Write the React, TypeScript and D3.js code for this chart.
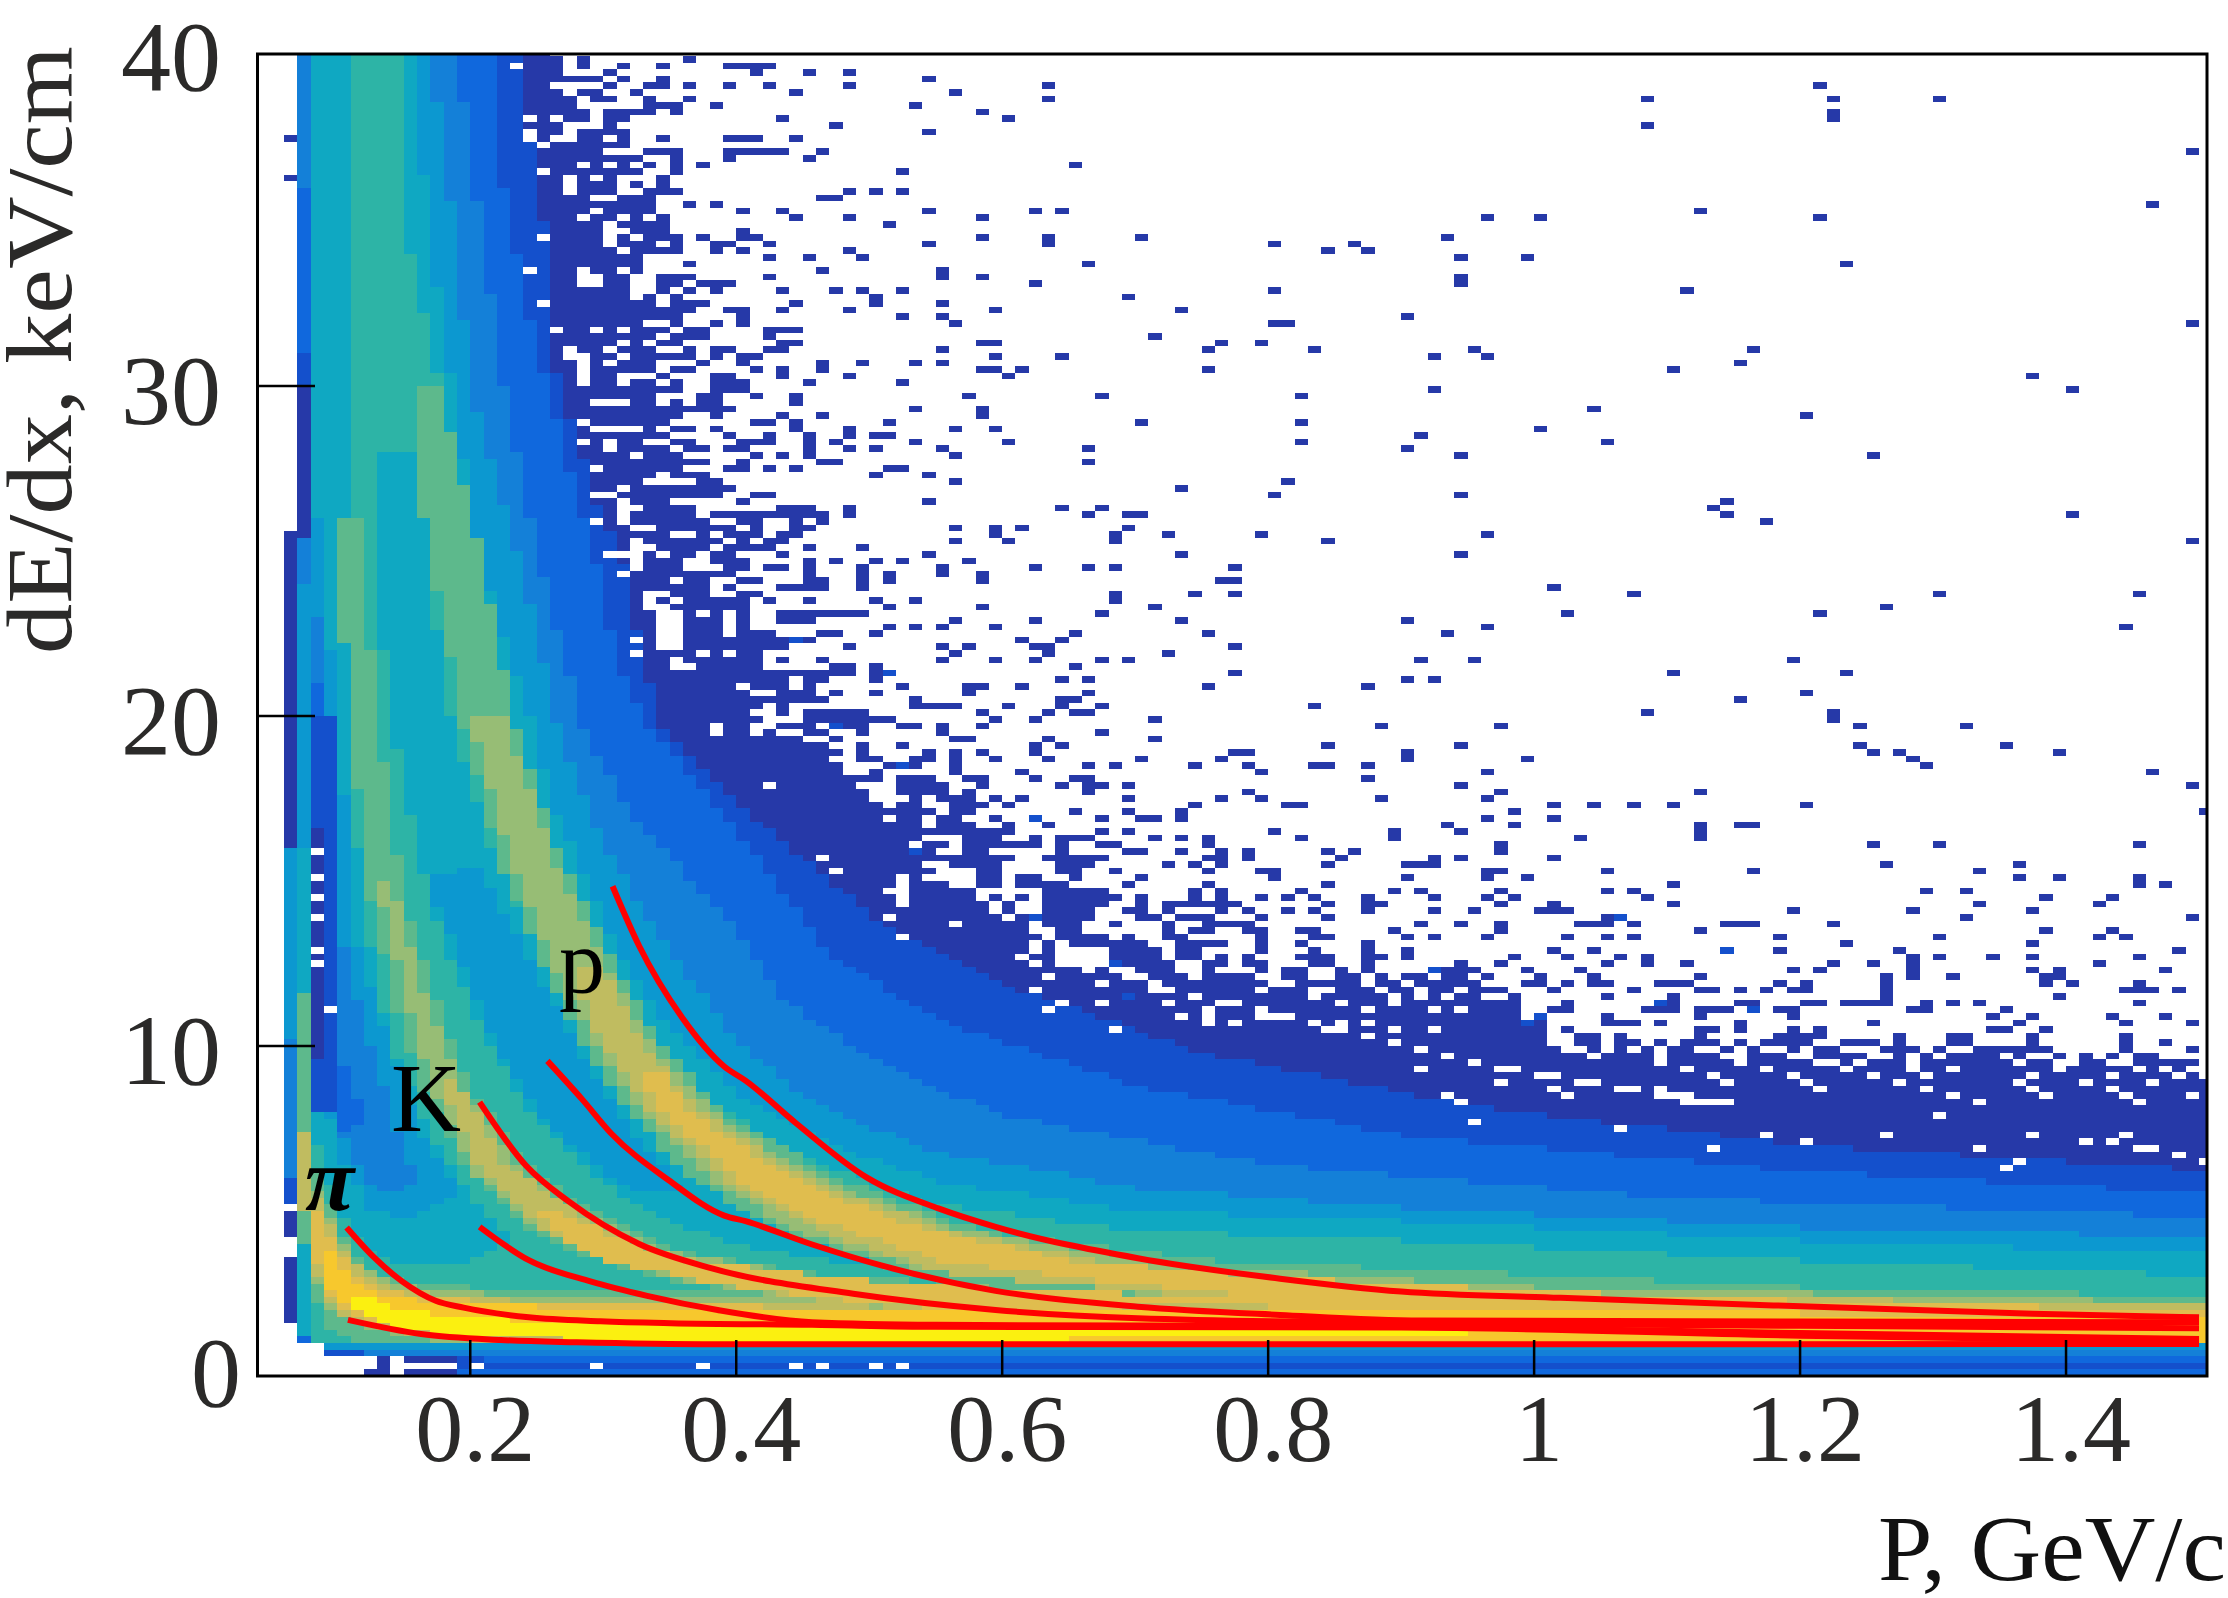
import React, { useMemo } from "react";
import * as d3 from "d3";

// ---------- chart values ----------
const xTicks = [0.2, 0.4, 0.6, 0.8, 1, 1.2, 1.4];
const yTicks = [10, 20, 30];
const palette = ["#2639A8", "#1450CC", "#1068DD", "#1480D8", "#0C98D0", "#0FA8C2", "#2DB4A6", "#5DB98C", "#97BD75", "#C0BC60", "#E0BD4E", "#F7C82D", "#FBF010"];
type Pt = [number, number];

// contour outlines [P, dE/dx] of the dense histogram, one per colour level
const solid: Pt[] = [[.07,40.2],[.26,40.2],[.26,38],[.27,35],[.275,33],[.285,30],[.31,26.7],[.33,23.7],[.35,21.7],[.38,19.7],[.40,18.5],[.44,17.5],[.50,16],[.60,14],[.70,11.8],[.80,11],[.90,10],[.96,9.4],[1.1,8.4],[1.3,7.6],[1.52,7],[1.52,.9],[.07,.9]];
const env1: Pt[] = [[.08,40.2],[.235,40.2],[.255,35],[.266,30],[.295,26.5],[.314,24.7],[.33,21.7],[.345,19.7],[.40,17.4],[.50,14],[.60,11.9],[.75,9.8],[.95,8.2],[1.2,7],[1.52,6.2],[1.52,.9],[.08,.9]];
const env2: Pt[] = [[.08,40.2],[.215,40.2],[.225,36],[.25,31],[.26,29.8],[.278,27],[.295,24.7],[.31,21.7],[.335,19.7],[.40,16.5],[.47,12.8],[.55,10.8],[.70,8.8],[.90,7.3],[1.2,6.2],[1.52,5.5],[1.52,.9],[.08,.9]];
const env3: Pt[] = [[.08,40.2],[.19,40.2],[.207,35],[.225,30],[.25,25],[.284,19.7],[.32,17],[.40,13.6],[.43,11.6],[.50,9.6],[.60,7.9],[.80,6.4],[1.1,5.4],[1.52,4.8],[1.52,.9],[.08,.9]];
const env4: Pt[] = [[.08,40.2],[.17,40.2],[.187,35],[.20,30],[.237,24.7],[.266,19.7],[.29,17],[.33,14],[.40,10.2],[.46,8.2],[.55,6.8],[.70,5.7],[.90,5.1],[1.2,4.5],[1.52,4.2],[1.52,.9],[.08,.9]];
const env5: Pt[] = [[.08,40.2],[.16,40.2],[.167,35],[.187,30],[.205,25],[.247,19.7],[.265,17],[.31,13],[.35,10.5],[.40,8.6],[.47,7],[.55,5.9],[.70,5],[.90,4.7],[1.2,4.1],[1.52,3.7],[1.52,.9],[.08,.9]];
const env6: Pt[] = [[.11,40.2],[.15,40.2],[.15,35],[.177,30],[.19,25],[.215,20],[.25,16],[.29,12.8],[.33,10.3],[.38,8.4],[.45,6.6],[.55,5.2],[.70,4.4],[.90,4.1],[1.2,3.5],[1.52,3],[1.52,.9],[.2,.9],[.2,3.4],[.23,4.2],[.21,5],[.175,7],[.14,10],[.118,14.5],[.107,20],[.105,30]];
const valleyKp5: Pt[] = [[.125,28],[.13,24],[.14,20],[.16,16],[.18,13],[.215,10],[.245,8],[.295,6],[.33,5],[.40,4],[.48,3.4],[.55,3.3],[.5,4],[.43,5],[.375,6],[.325,8],[.285,10],[.25,13],[.215,16],[.185,20],[.17,24],[.16,28]];
const valleyKp4: Pt[] = [[.165,15],[.19,13],[.22,10],[.25,8],[.30,6.2],[.33,5.5],[.36,5.6],[.32,7.5],[.28,10],[.24,13],[.205,15.5]];
const valleyPiK4: Pt[] = [[.085,26],[.10,20],[.115,13],[.14,10],[.16,7.5],[.19,5.6],[.16,4.8],[.125,5],[.105,6.5],[.085,9]];
const valleyPiK3: Pt[] = [[.08,26],[.09,20],[.105,13],[.125,10],[.145,7.5],[.16,6],[.14,5.6],[.12,6],[.10,7.5],[.085,9]];
const valleyPiK2: Pt[] = [[.08,26],[.088,18],[.098,12],[.105,9.5],[.12,8],[.11,7],[.095,8],[.085,9.5]];
const valleyPiK1: Pt[] = [[.08,20],[.10,20],[.10,8],[.08,8]];
const valleyPiK0: Pt[] = [[.08,16.6],[.09,16.6],[.09,9.6],[.08,9.6]];
const pi6: Pt[] = [[.07,5],[.08,7.6],[.09,6.4],[.10,5.2],[.11,4.3],[.13,3.6],[.16,3.3],[.21,3.4],[.3,3.1],[1.52,2.4],[1.52,.9],[.2,.9],[.13,.9],[.09,.9],[.08,1.2],[.07,1.2]];
const pi7: Pt[] = [[.08,6.6],[.09,5.7],[.10,4.6],[.11,3.8],[.125,3.2],[.15,2.9],[.2,2.7],[.3,2.6],[.6,2.7],[.9,2.7],[1.52,2.3],[1.52,.95],[.6,.95],[.2,.95],[.13,1.0],[.1,1.2],[.09,1.6],[.08,2.8]];
const pi8: Pt[] = [[.08,6],[.09,5.3],[.10,4.3],[.11,3.6],[.13,2.95],[.17,2.6],[.25,2.4],[.5,2.3],[1.52,2.05],[1.52,1],[.4,.98],[.2,1],[.15,1.2],[.12,1.5],[.10,1.9],[.09,2.2],[.08,3.4]];
const pi9: Pt[] = [[.08,5.8],[.09,5.1],[.10,4],[.11,3.5],[.13,2.85],[.17,2.45],[.25,2.25],[.5,2.1],[1.52,1.95],[1.52,1],[.4,1],[.2,1.1],[.15,1.3],[.12,1.6],[.10,2],[.09,2.4],[.08,3.8]];
const pi10: Pt[] = [[.08,5.5],[.09,4.6],[.10,3.8],[.11,3.2],[.13,2.7],[.17,2.35],[.25,2.2],[.5,2.05],[1.52,1.9],[1.52,1],[.4,1],[.2,1.15],[.15,1.4],[.12,1.7],[.10,2.1],[.09,2.6],[.08,4.2]];
const pi11: Pt[] = [[.09,4.2],[.10,3.4],[.11,2.9],[.13,2.5],[.17,2.2],[.25,2.1],[.5,2.0],[1.2,1.9],[1.52,1.75],[1.52,1],[.4,1.02],[.2,1.2],[.15,1.45],[.12,1.8],[.11,2.2],[.10,2.4],[.09,2.8]];
const pi12: Pt[] = [[.11,2.55],[.13,2.35],[.15,2.0],[.2,1.75],[.3,1.6],[.4,1.55],[.8,1.5],[.95,1.42],[.95,1.2],[.5,1.05],[.3,1.05],[.2,1.2],[.15,1.4],[.12,1.9],[.11,2.1]];
const proton7: Pt[] = [[.60,2.4],[.52,3.2],[.43,4.4],[.365,6],[.32,8],[.285,10],[.26,12],[.222,15.5],[.193,20],[.165,26],[.155,30],[.175,30],[.202,26],[.232,20],[.27,15.5],[.315,12],[.345,10],[.39,8],[.475,6],[.585,4.4],[.76,3.5],[.9,3.25],[1.2,2.7],[1.52,2.4],[1.52,2],[.7,2]];
const proton8: Pt[] = [[.70,2.6],[.54,3.2],[.445,4.4],[.38,6],[.328,8],[.295,10],[.268,12],[.232,15.5],[.2,20],[.225,20],[.265,15.5],[.308,12],[.338,10],[.382,8],[.46,6],[.57,4.4],[.74,3.3],[1,2.7],[1.52,2.2],[1.52,2],[.72,2]];
const proton9: Pt[] = [[.72,2.5],[.56,3.1],[.46,4.4],[.39,6],[.335,8],[.30,10],[.275,12.5],[.30,12.5],[.33,10],[.375,8],[.45,6],[.56,4.4],[.72,3.1],[.9,2.6],[1.52,2.1],[1.52,2],[.72,2]];
const proton10: Pt[] = [[.8,2.4],[.65,3],[.55,3.5],[.47,4.6],[.40,6],[.345,8],[.325,9.2],[.345,9.2],[.365,8],[.44,6],[.53,4.6],[.65,3.5],[.8,3],[1.1,2.4],[1.52,1.95],[.8,1.95]];
const kaon7: Pt[] = [[.45,2.2],[.34,3],[.27,3.8],[.24,4.6],[.20,6.1],[.165,8.7],[.145,11],[.125,14.5],[.108,20],[.10,26],[.115,26],[.13,20],[.15,14.5],[.178,11],[.20,8.7],[.25,6.1],[.31,4.6],[.36,3.8],[.48,3],[.7,2.6],[1.0,2.2],[.7,1.9]];
const kaon8: Pt[] = [[.46,2.2],[.35,3],[.28,3.8],[.245,4.6],[.205,6.1],[.172,8.7],[.155,11],[.13,15],[.14,15],[.17,11],[.195,8.7],[.24,6.1],[.30,4.6],[.345,3.8],[.46,3],[.7,2.45],[.9,2.2],[.6,1.9]];
const kaon9: Pt[] = [[.47,2.2],[.37,2.9],[.29,3.6],[.25,4.6],[.205,6.5],[.175,9],[.19,9],[.225,6.5],[.295,4.6],[.35,3.6],[.47,2.9],[.7,2.4],[.9,2.2],[.6,1.9]];
const kaon10: Pt[] = [[.5,2.2],[.38,2.8],[.30,3.5],[.27,4.2],[.25,5],[.27,5],[.31,4.2],[.36,3.5],[.52,2.8],[.8,2.3],[.6,1.95]];
const layers: [number, Pt[]][] = [
  [1,env1],[2,env2],[3,env3],[4,env4],[5,env5],[6,env6],
  [5,valleyKp5],[4,valleyKp4],[4,valleyPiK4],[3,valleyPiK3],[2,valleyPiK2],[1,valleyPiK1],[0,valleyPiK0],
  [6,pi6],[7,proton7],[7,kaon7],[7,pi7],[8,proton8],[8,kaon8],[8,pi8],[9,proton9],[9,kaon9],[9,pi9],
  [10,proton10],[10,kaon10],[10,pi10],[11,pi11],[12,pi12],
];

// the two leftmost columns: [P bin, dE from, dE to, colour level]
const leftColumns: [number, number, number, number][] = [
  [6,16,25.6,0],[6,10.2,16,4],[6,6,10.2,3],[6,5.2,6,1],[6,4.2,5,0],[6,1.6,3.6,0],
  [7,36,40.2,3],[7,31,36,2],[7,30,31,1],[7,25.6,30,0],[7,24,25.4,3],[7,16,24,4],[7,11.6,16,5],[7,7.4,11.6,7],[7,5.1,7.4,9],[7,4.1,5.1,7],[7,1.2,4.1,5],[7,.8,1.2,2],
];
// histogram rows at the foot of the plot: [row, first P bin, last P bin, colour level]
const bottomRows: [number, number, number, number][] = [
  [4,9,150,4],[3,9,11,1],[3,12,150,3],[2,13,13,0],[2,15,18,0],[2,19,20,1],[2,21,150,2],
  [1,13,13,0],[1,19,150,1],[0,12,13,0],[0,15,18,0],[0,19,150,2],
];
// isolated cells: [dE row (0.2 wide), list of P bins (0.01 wide)]
const fringeRows: [number, string][] = [
[199,"21 23-26 28 36"],[198,"24-26 28 31 34 39-42"],[197,"24-26 30 41 45 48"],[196,"24-29 31 34 54"],[195,"21 22 25 30 33 34 36 39 42 48 63 121"],[194,"26 28 29 32 44 56"],[193,"24-27 29 30 33 36 63 108 122 130"],[192,"22-27 33-35 38 53"],[191,"26-28 30-33 35 58 122"],[190,"23 25 27 28 30 31 43 60 122"],
[189,"26 30 47 108"],[188,"25 26 28-31 54"],[187,"6 25 28 29 31 34 39-41 44"],[186,"26-31"],[185,"26-29 33-35 39-43 46 149"],[184,"26-32 35 39 45"],[183,"26 27 29 31 33 35 37 65"],[182,"26-32 35 52"],[181,"6 26-28 30 34"],[180,"26 28-30 32 34"],
[179,"26-30 33-35 48 50 52"],[178,"26-28 31-33 46 47"],[177,"26-33 36 38 146"],[176,"26-33 40 43 54 62 64 112"],[175,"26-30 32 34 44 48 58 96 100 121"],[174,"26-29 31-34 51"],[173,"26-29 32-34 40"],[172,"26-29 31 33-35 37 40 41 58 63 70 93"],[171,"26-29 31-33 35 38 39 42 54 63 80 86"],[170,"26-30 32-35 38 40 48 84 87"],
[169,"27-32 42 45 49 94 99"],[168,"27-32 36 66 123"],[167,"27 29 30 32 46 55"],[166,"27 30 31 34-36 42 55 58 94"],[165,"27 30 31 34 35 37-39 62 94"],[164,"27-31 34 36 38 43 47 49 52 80 111"],[163,"27-31 33 35 50 69"],[162,"27-33 35-37 44 50 55"],[161,"27-36 39 40 43 48 59 73"],[160,"27-35 40 52 55 90"],
[159,"28-32 35 38 40 56 80 81 149"],[158,"28-34 36 37 42-44"],[157,"28-33 35-37 42 71"],[156,"28-32 34 35 43 44 58 59 76 79"],[155,"28-33 36 38 39 42 43 55 75 83 95 116"],[154,"29-36 38 40 41 59 64 92 96"],[153,"29 31-33 37 40 46 49 53 55 115"],[152,"29-33 35 36 41 43 46 58 59 61 75 110"],[151,"29-31 34 38 39 43 48 60 137"],[150,"29 30 32 33 35 38-40 45 52"],
[149,"29-35 38-40 92 140"],[148,"29-33 37 38 41 44 57 67 82"],[147,"29 32 33 35 37 38 44"],[146,"29-39 53 58 104"],[145,"29-35 38 43 46 58 120"],[144,"29-34 41 42 44 51 70 82"],[143,"30-33 35 36 38 44 48 56 59 100"],[142,"30-34 39 42 45 48 50 51 91"],[141,"30-32 35 36 40-42 45 47 53 60 82 105"],[140,"30-34 36 37 39 40 45 48 50 55 66 90"],
[139,"30 31 33-35 41 43 45 56 94 125"],[138,"30-37 40 46 47 66"],[137,"30-35 39 40 42 44 51 52"],[136,"30-33 35-37 50 54"],[135,"31-33 37 38 56 81"],[134,"31-39 73"],[133,"31-38 41 42 80 94"],[132,"32-34 40 54 114"],[131,"32-36 43-45 48 64 67 113"],[130,"32-36 38-46 48 66 69 70 114 140"],
[129,"32-37 40 41 44-46 117"],[128,"32 34-41 44 45 56 59 61 69"],[127,"32-34 37-41 43 44 59 68 72 79 96"],[126,"33-38 40 42 43 56 60 68 84 149"],[125,"33-37 39-42 45 49"],[124,"33-36 38 39 43 54 73 94"],[123,"33-35 38-40 45 47 50 52 57"],[122,"33-35 39 40 42 43 45 49 55 62 66 68 77"],[121,"33-39 45 49 51 55 58"],[120,"33 34 36 37 40 41 45 46 49 51 58 76 77"],
[119,"33-37 39 43-46 49 101"],[118,"34-37 40 41 68 74 77 107 130 145"],[117,"34-40 42 45 50 53 68"],[116,"35-40 51 58 71 126"],[115,"35 36 38 40 43-49 67 102 121"],[114,"36-38 40 43-45 56 62 73 90"],[113,"36-38 40 51 53 55 59 96 144"],[112,"36-38 40-42 46 47 50 65 75 93"],[111,"36-45 61 64"],[110,"36-43 48 55 57 62 63 77"],
[109,"35-38 40 41 56 63 72"],[108,"36-41 43 46 55 59 62 67 69 91 95 119"],[107,"37-41 47 48 50 65"],[106,"36-48 50 77 110 123"],[105,"36-43 45 46 50 64 66 90 92"],[104,"36-39 41-43 45 52 57 58 61 75 87"],[103,"36-40 43-45 47 50 57 66 120"],[102,"36-46 53 64 65 115"],[101,"36-41 43 53-56 60 64 67 83"],[100,"36-40 43 45-49 58 63 65 66 108 122"],
[99,"37-41 45-51 59 62 71 122"],[98,"39 40 43-45 47-49 52 53 55 58 88 97 124 132"],[97,"39 40 42 45 46 49 55 67"],[96,"39-44 47 56 57 63 71"],[95,"39-46 49 52 62 64 84 94 124 135"],[94,"39-47 49 54 56 58 62 77 78 90 125 127 139"],[93,"39-46 49 50 53 54 56 59 63 70 76 90 99 128"],[92,"39-47 51-53 56 66 68 74 78 83 84 87 129"],[91,"39-47 50 56 61 79 96 146"],[90,"39-50 52-54 57 58 62 65 66 87"],
[89,"39-41 43-48 52-55 58 64 66 67 69 94 149"],[88,"40-49 52-55 57 66 78 97 112"],[87,"44-49 53 55-57 59 61 69 76 79 88 96"],[86,"45-50 52 53 56-58 60 74 81 82 101 104 107 110 120"],[85,"45-54 56 57 65 69 73 98 150"],[84,"46-50 52 53 55 56 59 62 67 70 71 73 96 101"],[83,"47-53 55-57 60 63 93 98 112 115 116"],[82,"47-60 67 69 80 89 94 112"],[81,"47-53 57-59 62 64-66 71 73 75 82 89 103 112"],[80,"47-52 54 55 57-62 64 67 68 75 97 125 130 145"],
[79,"47-54 57 58 64 69 70 73 76 78 84 86 97"],[78,"50-60 63-67 75 76 78 85 92 94 101"],[77,"51-53 56-59 64-66 72 74 76 84 90-92 126 136"],[76,"51 53 54 58 59 64 65 68 75 79 80 96 97 105 116 133"],[75,"53 58 59 61 62 65 70 80 90 96 99 136 139 145"],[74,"53-55 58-64 69 75 84 110 145 147"],[73,"54 56 57 63-67 74 76 82 89 91 97 105 107 129 132"],[72,"53-57 59-61 63-68 70 74 76 79 81 83 87 92 96 98 108 138 143"],[71,"53-58 60 63-67 70 72-77 84 87 88 97 101 110 133 142"],[70,"54-58 60 63-66 69 70 72 76 78 81 83 87 92 95 100-102 119 128 137"],
[69,"61-66 70 71 73-75 79 84 105 106 132 149"],[68,"61-65 68 72 75-78 91 94 97 103-105 107 114-116 122"],[67,"64 65 72 74 75 78 79 82 83 89 97 112 138 143"],[66,"64-67 69 72 73 79 83 84 90 92 96 102 105 107 118 130 142 144"],[65,"64-70 73-76 79 82 87 123 137"],[64,"66-71 73 74 79 83 87 90 101 104 114 118 127 148"],[63,"68-71 73 74 76 78 82-84 87 88 90 98 102 106 108 128 130 134 137 145"],[62,"69-72 75 76 78 79 83 84 87 94 97 105 108 111 122 125 128 142"],[61,"70-72 75 79 81 82 85 87 93-95 99 103 119 121 128 137 139 147"],[60,"71-73 75-78 81 82 85 86 88 90 91 93 94 96 100 104 112 126 128 131 138 139"],
[59,"70-79 82-86 88 89 91-95 99 100 102 104 105 109-111 118 120 126 138 140 145"],[58,"73-78 80-83 85-87 89-93 95-97 101 107 112 113 115 117 119 120 126 144-146 148"],[57,"75-88 90 92 94 95 98 105 110 126 139"],[56,"78-88 90-96 97 98 102 109 110 115 116 120 121 123-126 129 131 133 145"],[55,"80-86 88-98 101 102 108-110 112-114 116 118 119 128 129 135"],[54,"82-98 100 105 112 119 134 137 143 147"],[53,"84-100 105-107 109 115 125 136 144 149"],[52,"86-100 102 112 113 115 119 121 134 135 138"],[51,"88-100 103 104 106 112 118-121 127 131 132 137 144"],[50,"90-100 103 104 106 107 109 111-113 115 117-120 123-125 127 131 132 137 144 147"],
[49,"92-101 104 106 108 110 111 114 116 119 121 122 126-128 130 133-138 144 149"],[48,"94-103 105-108 110-113 116-118 121-124 127 129 131-134 136 139 141 143 145 146"],[47,"96-108 110-114 116-120 123 125-127 129-135 137 138 141 142 145-149"],[46,"99-110 112-116 118-122 124-127 129 130 132-138 140-144 146 148"],[45,"102-112 114-118 120-124 126-128 130-136 138-142 144-147 149"],[44,"105-113 115-119 121-126 128-135 137-140 142-145 147-150"],[43,"108-120 122-128 130-136 138-142 144-150"],[42,"112-130 132-137 139-143 145-148 150"],[41,"115-132 134-144 146-150"],[40,"118-150"],
[39,"122-150"],[38,"126-150"],[37,"132-150"],[36,"138-150"],[35,"144-150"],
];
// white gaps inside the dense part: [dE row, P bins]
const holeRows: [number, string][] = [
[79,"8"],[75,"8 52"],[72,"8 52 60"],[69,"8 51"],[64,"8 62 64-67"],[62,"8 62 64-66"],[55,"9 63 75 92 94"],[78,"46"],[76,"47"],[73,"51 52"],[71,"52"],[66,"52"],
[74,"52 60"],[65,"62 64"],[70,"59"],[68,"56 62"],[58,"62 72 79 83 84 91"],[54,"73 75 79 80"],[53,"75 77 85 87"],[46,"91"],[44,"97"],[43,"101 109"],[42,"93 102"],[41,"94 111 112"],[39,"130"],[38,"95"],[37,"106"],[36,"117 126 137 144"],[35,"120 141 143"],[34,"113 133 145 146"],[33,"148"],[32,"136 150"],[31,"135"],[1,"14-18 20 29 37 44 46 50 52"],
[63,"61 64-67"],[61,"66"],[60,"63"],[59,"67 71"],[57,"83 89"],[56,"64 67 72 85"],[52,"68 84 89 92"],
[198,"23"],[190,"24 26"],[188,"24 27"],[187,"24 27 30"],[186,"25"],[183,"28 30"],[182,"25"],[181,"27 29"],[180,"27"],[179,"27"],[176,"29"],[175,"28 31"],[172,"25"],[167,"24 28"],[166,"28 29"],[162,"25"],[158,"26 29 31"],[156,"31"],[155,"27 30"],[154,"27 31"],[153,"30"],[151,"31 32"],[150,"31"],
[147,"29"],[144,"28"],[143,"30-32"],[141,"28 30"],[140,"30"],[139,"32"],[137,"29"],[136,"34"],[135,"33-36"],[134,"31"],[133,"29 30"],[131,"32"],[129,"29 31 45"],[128,"32 33 40"],[127,"35 36 38"],[126,"39"],[125,"32 33"],[124,"30 31 34"],[121,"31"],[118,"34"],[117,"35"],[115,"35 37"],[114,"35"],[112,"39"],[111,"32 35"],[110,"34"],[109,"32 37 39"],
];
const accentCells: Pt[] = [[62,84],[51,106],[53,79],[44,111],[47,98],[52,92],[92,61],[69,57],[68,62],[62,69],[106,69],[109,56],[116,55],[114,64],[100,54],[99,53]];

// red particle curves [P, dE/dx]
const protonUpper: Pt[] = [[.307,14.84],[.327,13.03],[.359,10.88],[.391,9.38],[.407,8.95],[.445,7.66],[.498,6.02],[.552,5.08],[.595,4.52],[.702,3.57],[.809,2.95],[.9,2.56],[1.02,2.37],[1.18,2.14],[1.375,1.89],[1.5,1.78]];
const protonLower: Pt[] = [[.258,9.55],[.284,8.39],[.306,7.35],[.349,5.94],[.391,4.86],[.407,4.69],[.456,4],[.509,3.35],[.595,2.58],[.702,2.1],[.809,1.85],[.915,1.68],[1.2,1.65],[1.5,1.63]];
const kaonUpper: Pt[] = [[.207,8.3],[.242,6.37],[.274,5.29],[.327,4],[.381,3.27],[.488,2.49],[.595,2],[.702,1.75],[.915,1.6],[1.2,1.52],[1.5,1.45]];
const kaonLower: Pt[] = [[.207,4.52],[.244,3.51],[.291,2.86],[.333,2.43],[.386,2],[.457,1.63],[.55,1.55],[.9,1.5],[1.2,1.3],[1.5,1.12]];
const pionUpper: Pt[] = [[.107,4.5],[.1275,3.6],[.149,2.86],[.174,2.28],[.195,2.07],[.244,1.78],[.298,1.66],[.351,1.6],[.457,1.55],[.55,1.49],[.9,1.47],[1.2,1.22],[1.5,1.05]];
const pionLower: Pt[] = [[.108,1.7],[.163,1.27],[.223,1.09],[.28,1.02],[.386,.96],[.55,.96],[1.5,.97]];
const redCurves = [protonUpper, protonLower, kaonUpper, kaonLower, pionUpper, pionLower];

const parseBins = (s: string) => s.split(" ").flatMap((t) => {
  const [a, b] = t.split("-").map(Number);
  return b === undefined ? [a] : d3.range(a, b + 1);
});

const serif = "'Liberation Serif', serif";

export default function App() {
  const x = d3.scaleLinear().domain([0.04, 1.506]).range([257.5, 2207]);
  const y = d3.scaleLinear().domain([0, 40]).range([1376, 56]);

  const runs = useMemo(() => {
    const nx = 151, ny = 201;
    const grid: number[][] = d3.range(ny).map(() => new Array(nx).fill(-1));
    const paint = (lv: number, poly: Pt[]) => {
      for (let r = 0; r < ny; r++) for (let c = 0; c < nx; c++) {
        if (d3.polygonContains(poly, [(c + .5) * .01, (r + .5) * .2])) grid[r][c] = lv;
      }
    };
    paint(0, solid);
    for (const [r, s] of fringeRows) for (const c of parseBins(s)) grid[r][c] = 0;
    for (const [lv, poly] of layers) paint(lv, poly);
    for (const [c, a, b, lv] of leftColumns) for (let r = 0; r < ny; r++) {
      const m = (r + .5) * .2;
      if (m >= a && m < b) grid[r][c] = lv;
    }
    for (let r = 0; r < 5; r++) grid[r].fill(-1);
    for (const [r, a, b, lv] of bottomRows) for (let c = a; c <= b; c++) grid[r][c] = lv;
    for (const [c, r] of accentCells) grid[r][c] = 1;
    for (const [r, s] of holeRows) for (const c of parseBins(s)) grid[r][c] = -1;
    const out: { r: number; a: number; b: number; lv: number }[] = [];
    for (let r = 0; r < ny; r++) {
      let c = 0;
      while (c < nx) {
        const lv = grid[r][c];
        let e = c + 1;
        while (e < nx && grid[r][e] === lv) e++;
        if (lv >= 0) out.push({ r, a: c, b: e, lv });
        c = e;
      }
    }
    return out;
  }, []);

  const line = d3.line<Pt>().x((d) => x(d[0])).y((d) => y(d[1])).curve(d3.curveMonotoneX);
  const ink = "#2b2a29";

  return (
    <svg width={2228} height={1598} viewBox="0 0 2228 1598" style={{ position: "absolute", left: 0, top: 0, background: "#fff" }}>
      <defs>
        <clipPath id="plot"><rect x={257.5} y={54} width={1949.5} height={1322} /></clipPath>
      </defs>
      <g clipPath="url(#plot)" shapeRendering="crispEdges">
        {runs.map((d, i) => (
          <rect key={i} x={x(d.a * .01)} width={x(d.b * .01) - x(d.a * .01)} y={y((d.r + 1) * .2)} height={y(d.r * .2) - y((d.r + 1) * .2)} fill={palette[d.lv]} />
        ))}
      </g>
      <g clipPath="url(#plot)">
        {redCurves.map((c, i) => (
          <path key={i} d={line(c) ?? ""} fill="none" stroke="#FF0000" strokeWidth={6} />
        ))}
      </g>
      {xTicks.map((t) => <line key={t} x1={x(t)} x2={x(t)} y1={1376} y2={1340} stroke="#000" strokeWidth={2.5} />)}
      {yTicks.map((t) => <line key={t} x1={257.5} x2={315} y1={y(t)} y2={y(t)} stroke="#000" strokeWidth={2.5} />)}
      <rect x={257.5} y={54} width={1949.5} height={1322} fill="none" stroke="#000" strokeWidth={3} />
      <g fontFamily={serif} fontSize={96} fill={ink}>
        {xTicks.map((t) => <text key={t} x={x(t) + 5} y={1461} textAnchor="middle">{String(t)}</text>)}
        <g fontSize={100}>
          <text x={221} y={90} textAnchor="end">40</text>
          <text x={221} y={424} textAnchor="end">30</text>
          <text x={221} y={754} textAnchor="end">20</text>
          <text x={221} y={1084} textAnchor="end">10</text>
          <text x={241} y={1406} textAnchor="end">0</text>
        </g>
        <text transform="translate(71,46) rotate(-90)" textAnchor="end" fontSize={94} textLength={608} lengthAdjust="spacingAndGlyphs">dE/dx, keV/cm</text>
      </g>
      <text x={1878} y={1580} fontFamily={serif} fontSize={94} fill="#111" textLength={348} lengthAdjust="spacingAndGlyphs">P, GeV/c</text>
      <g fontFamily={serif} fill="#000">
        <text x={391} y={1131} fontSize={97}>K</text>
        <text x={559} y={993} fontSize={92}>p</text>
        <text x={305} y={1210} fontSize={90} fontStyle="italic" fontWeight="bold">π</text>
      </g>
    </svg>
  );
}
